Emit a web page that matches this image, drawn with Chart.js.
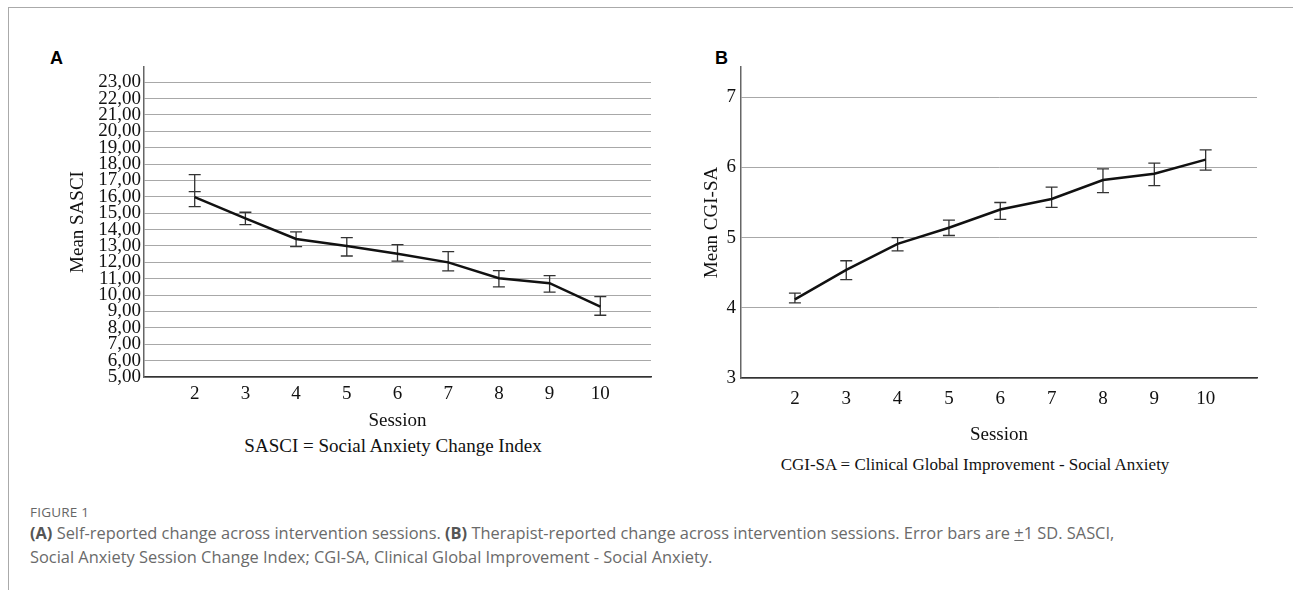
<!DOCTYPE html>
<html>
<head>
<meta charset="utf-8">
<script src="https://cdn.jsdelivr.net/npm/chart.js@4.4.1/dist/chart.umd.min.js"></script>
<style>
  html, body { margin: 0; padding: 0; background: #fff; }
  body { width: 1293px; height: 590px; position: relative; overflow: hidden; }
  .frame { position: absolute; left: 8px; top: 7px; right: 0; bottom: 0; border-top: 1px solid #aaa; border-left: 1px solid #aaa; }
  canvas { position: absolute; }
  .panel { position: absolute; font: bold 18px 'Liberation Sans', Arial, sans-serif; color: #000; }
  .note { position: absolute; font-family: 'Liberation Serif', 'Times New Roman', serif; color: #111; white-space: nowrap; transform: translate(-50%, -50%); }
  .fig { position: absolute; left: 30px; top: 503px; font: 13.5px 'Open Sans', sans-serif; color: #666; letter-spacing: 0.2px; }
  .cap { position: absolute; left: 30px; top: 521px; width: 1250px; font: 16.4px/24px 'Open Sans', sans-serif; color: #6a6a6a; }
  .cap b { color: #555; }
</style>
</head>
<body>
<div class="frame"></div>
<div class="panel" style="left:50px;top:48px">A</div>
<div class="panel" style="left:715px;top:48px">B</div>
<canvas id="chartA" width="593" height="392" style="left:67px;top:40px"></canvas>
<canvas id="chartB" width="564" height="406" style="left:701px;top:40px"></canvas>
<div class="note" style="left:393px;top:446px;font-size:19px">SASCI = Social Anxiety Change Index</div>
<div class="note" style="left:975px;top:465px;font-size:17px">CGI-SA = Clinical Global Improvement - Social Anxiety</div>
<div class="fig">FIGURE 1</div>
<div class="cap"><b>(A)</b> Self-reported change across intervention sessions. <b>(B)</b> Therapist-reported change across intervention sessions. Error bars are <u>+</u>1 SD. SASCI,<br>Social Anxiety Session Change Index; CGI-SA, Clinical Global Improvement - Social Anxiety.</div>
<script>
const sessions = [2, 3, 4, 5, 6, 7, 8, 9, 10];

const sasciMean = [15.98, 14.69, 13.43, 13.0, 12.53, 12.0, 11.03, 10.73, 9.3];
const sasciLow  = [15.4, 14.3, 12.96, 12.39, 12.07, 11.48, 10.5, 10.18, 8.77];
const sasciHigh = [17.36, 15.06, 13.86, 13.51, 13.08, 12.66, 11.5, 11.19, 9.91];
const sasciMid  = [16.32, null, null, null, null, null, null, null, null];
const sasciTicks = [5, 6, 7, 8, 9, 10, 11, 12, 13, 14, 15, 16, 17, 18, 19, 20, 21, 22, 23];

const cgiMean = [4.12, 4.54, 4.91, 5.14, 5.40, 5.55, 5.82, 5.91, 6.11];
const cgiLow  = [4.07, 4.40, 4.81, 5.03, 5.26, 5.43, 5.64, 5.74, 5.96];
const cgiHigh = [4.21, 4.67, 5.0, 5.25, 5.5, 5.72, 5.98, 6.06, 6.25];
const cgiTicks = [3, 4, 5, 6, 7];

const serif = "'Liberation Serif', 'Times New Roman', serif";

const errorBars = {
  id: 'errorBars',
  beforeDatasetsDraw(chart, args, opts) {
    const {ctx, scales: {x, y}} = chart;
    ctx.save();
    ctx.strokeStyle = '#333';
    ctx.lineWidth = 1.3;
    opts.low.forEach((lo, i) => {
      const px = x.getPixelForValue(sessions[i]);
      ctx.beginPath();
      ctx.moveTo(px, y.getPixelForValue(lo));
      ctx.lineTo(px, y.getPixelForValue(opts.high[i]));
      [lo, opts.high[i], opts.mid ? opts.mid[i] : null].forEach(v => {
        if (v == null) return;
        const py = y.getPixelForValue(v);
        ctx.moveTo(px - 6, py);
        ctx.lineTo(px + 6, py);
      });
      ctx.stroke();
    });
    ctx.restore();
  }
};

function makeChart(id, means, low, high, mid, ticks, cfg) {
  new Chart(document.getElementById(id), {
    type: 'line',
    data: {
      datasets: [{
        data: sessions.map((s, i) => ({x: s, y: means[i]})),
        borderColor: '#111',
        borderWidth: 2.5,
        pointRadius: 0,
        tension: 0,
      }]
    },
    options: {
      responsive: false,
      animation: false,
      layout: { padding: { top: 27, right: cfg.right, left: 0, bottom: 0 } },
      plugins: {
        legend: { display: false },
        tooltip: { enabled: false },
        errorBars: { low: low, high: high, mid: mid },
      },
      scales: {
        x: {
          type: 'linear',
          min: cfg.xMin,
          max: 11,
          afterBuildTicks: axis => { axis.ticks = sessions.map(v => ({value: v})); },
          afterFit: scale => { scale.height = cfg.xHeight; },
          grid: { display: false },
          border: { color: '#333', width: 1.5 },
          ticks: { font: { family: serif, size: 19 }, color: '#111', padding: cfg.xPad, autoSkip: false, maxRotation: 0 },
          title: { display: true, text: 'Session', font: { family: serif, size: 19 }, color: '#111', padding: 0 },
        },
        y: {
          min: ticks[0],
          max: cfg.yMax,
          afterBuildTicks: axis => { axis.ticks = ticks.map(v => ({value: v})); },
          afterFit: scale => { scale.width = cfg.yWidth; },
          grid: { color: '#a8a8a8', lineWidth: 1, drawTicks: false },
          border: { color: '#666', width: 1.5 },
          ticks: { font: { family: serif, size: 19 }, color: '#111', padding: cfg.yPad, autoSkip: false, callback: cfg.fmt },
          title: { display: true, text: cfg.yTitle, font: { family: serif, size: 19 }, color: '#111', padding: 0 },
        }
      }
    },
    plugins: [errorBars]
  });
}

makeChart('chartA', sasciMean, sasciLow, sasciHigh, sasciMid, sasciTicks, {
  right: 9, xMin: 1, yMax: 23.93, xHeight: 55, yWidth: 77, xPad: -2, yPad: 3,
  yTitle: 'Mean SASCI', fmt: v => v.toFixed(2).replace('.', ',')
});

makeChart('chartB', cgiMean, cgiLow, cgiHigh, null, cgiTicks, {
  right: 8, xMin: 0.95, yMax: 7.43, xHeight: 68, yWidth: 40, xPad: 2, yPad: 5,
  yTitle: 'Mean CGI-SA', fmt: v => String(v)
});
</script>
</body>
</html>
